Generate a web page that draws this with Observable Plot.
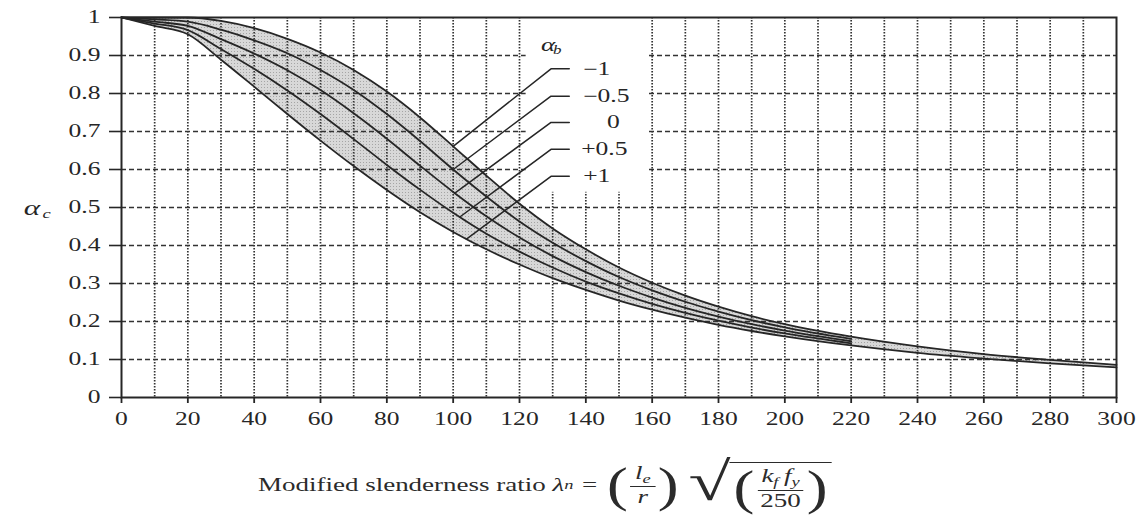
<!DOCTYPE html>
<html><head><meta charset="utf-8">
<script src="https://cdn.jsdelivr.net/npm/d3@7"></script>
<script src="https://cdn.jsdelivr.net/npm/@observablehq/plot@0.6"></script>
<style>
body{margin:0;background:#fff;}
#wrap{position:relative;width:1141px;height:519px;overflow:hidden;background:#fff;}
#cap{position:absolute;left:258px;top:452px;font-family:"Liberation Serif",serif;font-size:19px;color:#2b2b2b;white-space:nowrap;display:flex;align-items:center;height:66px;transform-origin:0 50%;transform:scaleX(1.42);}
#cap i{font-style:italic;}
.frac{display:inline-flex;flex-direction:column;align-items:center;font-size:19px;line-height:1.05;margin:0 1px;}
.frac .num{border-bottom:1.2px solid #2b2b2b;padding:0 3px 1px 3px;}
.paren{font-size:44px;display:inline-block;transform:scaleY(1.12);line-height:1;margin:0 1px;font-weight:300;}
.radgrp{display:inline-flex;align-items:flex-start;margin-left:6px;}
.sq{font-size:54px;display:inline-block;line-height:0.9;margin-top:-1px;margin-right:-1px;}
.rad{border-top:1.3px solid #2b2b2b;display:inline-flex;align-items:center;margin-top:3px;padding:3px 2px 0 2px;}
sub{font-size:13px;vertical-align:-4px;}
.eq{margin:0 6px;}
</style></head><body>
<div id="wrap"><div id="chart"></div>
<div id="cap">Modified slenderness ratio&nbsp;<i>λ</i><sub><i>n</i></sub><span class="eq">=</span><span class="paren">(</span><span class="frac"><span class="num"><i>l<sub>e</sub></i></span><span><i>r</i></span></span><span class="paren">)</span><span class="radgrp"><span class="sq">√</span><span class="rad"><span class="paren">(</span><span class="frac"><span class="num"><i>k<sub>f</sub>&thinsp;f<sub>y</sub></i></span><span>250</span></span><span class="paren">)</span></span></span></div>
</div>
<script>
// modified slenderness ratio (x)
const lambdaN = [0,10,20,30,40,50,60,70,80,90,100,110,120,130,140,150,160,170,180,190,200,220,240,260,280,300];
// alpha_c for each alpha_b
const acM1  = [1,1,1,0.991,0.972,0.944,0.908,0.862,0.805,0.737,0.661,0.584,0.510,0.445,0.390,0.342,0.302,0.268,0.239,0.214,0.193,0.160,0.1345,0.114,0.099,0.086];
const acM05 = [1,0.995,0.989,0.968,0.940,0.906,0.862,0.8095,0.746,0.675,0.600,0.529,0.463,0.407,0.359,0.317,0.282,0.252,0.226,0.2035,0.1845,0.154,0.130,0.111,0.0966,0.0844];
const ac0   = [1,0.989,0.978,0.943,0.905,0.861,0.809,0.748,0.681,0.610,0.541,0.477,0.421,0.372,0.330,0.294,0.263,0.236,0.213,0.193,0.176,0.148,0.126,0.108,0.094,0.0825];
const acP05 = [1,0.984,0.967,0.917,0.865,0.808,0.746,0.680,0.612,0.547,0.486,0.431,0.384,0.342,0.305,0.274,0.2465,0.2227,0.202,0.184,0.1685,0.1425,0.1218,0.1052,0.0918,0.0808];
const acP1  = [1,0.978,0.956,0.889,0.818,0.746,0.676,0.609,0.546,0.4875,0.4357,0.390,0.350,0.314,0.283,0.255,0.231,0.210,0.191,0.175,0.161,0.137,0.1175,0.1025,0.0896,0.0791];
const innerEnd = 220;

// legend labels (alpha_b) and their leader lines
const abLabels   = ["−1","−0.5","0","+0.5","+1"];
const abLabelX   = [139.2,139.2,146.4,138.6,139.2];
const abLabelY   = [0.865,0.793,0.724,0.653,0.582];
const leaderEndX = [100,100,100.5,102,104];
const leaderEndY = [0.661,0.600,0.538,0.475,0.417];
const leaderX1 = 129.5, leaderX2 = 135;
const labelBox = [122,159,0.54,1]; // blank area behind the legend labels

// ticks
const xTicks = [0,20,40,60,80,100,120,140,160,180,200,220,240,260,280,300];
const yTicks = [0,0.1,0.2,0.3,0.4,0.5,0.6,0.7,0.8,0.9,1];
const xGrid = [10,20,30,40,50,60,70,80,90,100,110,120,130,140,150,160,170,180,190,200,210,220,230,240,250,260,270,280,290];
const yGrid = [0.1,0.2,0.3,0.4,0.5,0.6,0.7,0.8,0.9];

const series = [
  {ab:"−1", v:acM1, full:true},
  {ab:"−0.5", v:acM05, full:false},
  {ab:"0", v:ac0, full:false},
  {ab:"+0.5", v:acP05, full:false},
  {ab:"+1", v:acP1, full:true}
];
const curveData = series.flatMap(s => lambdaN.map((x,i)=>({ab:s.ab,x,y:s.v[i]})).filter(d => s.full || d.x <= innerEnd));
const band = lambdaN.map((x,i)=>({x, lo:acP1[i], hi:acM1[i]}));
const leaders = abLabels.flatMap((lab,i)=>[
  {k:lab,x:leaderX2,y:abLabelY[i]},
  {k:lab,x:leaderX1,y:abLabelY[i]},
  {k:lab,x:leaderEndX[i],y:leaderEndY[i]}
]);
const labelData = abLabels.map((t,i)=>({t,x:abLabelX[i],y:abLabelY[i]}));

const ink = "#262626";
const chart = Plot.plot({
  width:1141, height:440,
  marginLeft:121, marginRight:25, marginTop:17, marginBottom:43,
  style:{fontFamily:"'Liberation Serif', serif", fontSize:"18px", color:ink, background:"#fff"},
  x:{domain:[0,300]},
  y:{domain:[0,1]},
  marks:[
    Plot.areaY(band,{x:"x",y1:"lo",y2:"hi",fill:"url(#stip)",curve:"monotone-x"}),
    Plot.ruleX(xGrid,{stroke:"#333",strokeWidth:1.7,strokeDasharray:"1.4,1.6"}),
    Plot.ruleY(yGrid,{stroke:"#333",strokeWidth:1.4,strokeDasharray:"5,3"}),
    Plot.rect([labelBox],{x1:d=>d[0],x2:d=>d[1],y1:d=>d[2],y2:d=>d[3],fill:"#fff"}),
    Plot.line(curveData,{x:"x",y:"y",z:"ab",stroke:ink,strokeWidth:1.8,curve:"monotone-x"}),
    Plot.line(leaders,{x:"x",y:"y",z:"k",stroke:ink,strokeWidth:1.5}),
    Plot.text(labelData,{x:"x",y:"y",text:"t",textAnchor:"start",fontSize:18,fill:ink}),
    Plot.text([{x:128.6,y:0.929}],{x:"x",y:"y",text:()=>"α",fontSize:19,fontStyle:"italic",fill:ink}),
    Plot.text([{x:131.4,y:0.929}],{x:"x",y:"y",text:()=>"b",fontSize:12,fontStyle:"italic",dy:6,fill:ink}),
    Plot.text([{x:-27,y:0.5}],{x:"x",y:"y",text:()=>"α",fontSize:22,fontStyle:"italic",fill:ink}),
    Plot.text([{x:-22.6,y:0.5}],{x:"x",y:"y",text:()=>"c",fontSize:13,fontStyle:"italic",dy:6,fill:ink}),
    Plot.frame({stroke:ink,strokeWidth:2}),
    Plot.axisX({ticks:xTicks,tickSize:6,tickPadding:9,strokeWidth:1.8,tickFormat:d=>String(d),label:null}),
    Plot.axisY({ticks:yTicks,tickSize:12,tickPadding:9,strokeWidth:1.6,tickFormat:d=>String(d),label:null})
  ]
});
const defs = d3.select(chart).insert("defs",":first-child");
const pat = defs.append("pattern").attr("id","stip").attr("width",3).attr("height",3).attr("patternUnits","userSpaceOnUse");
pat.append("rect").attr("width",3).attr("height",3).attr("fill","#d8d8d8");
pat.append("rect").attr("width",1).attr("height",1).attr("fill","#a5a5a5");
// horizontally widened lettering like the reference
const S = 1.42;
chart.querySelectorAll("text").forEach(t=>{
  const x = parseFloat(t.getAttribute("x")) || 0;
  const tr = t.getAttribute("transform") || "";
  t.setAttribute("transform", `${tr} translate(${x},0) scale(${S},1) translate(${-x},0)`);
});
document.getElementById("chart").appendChild(chart);
</script></body></html>
